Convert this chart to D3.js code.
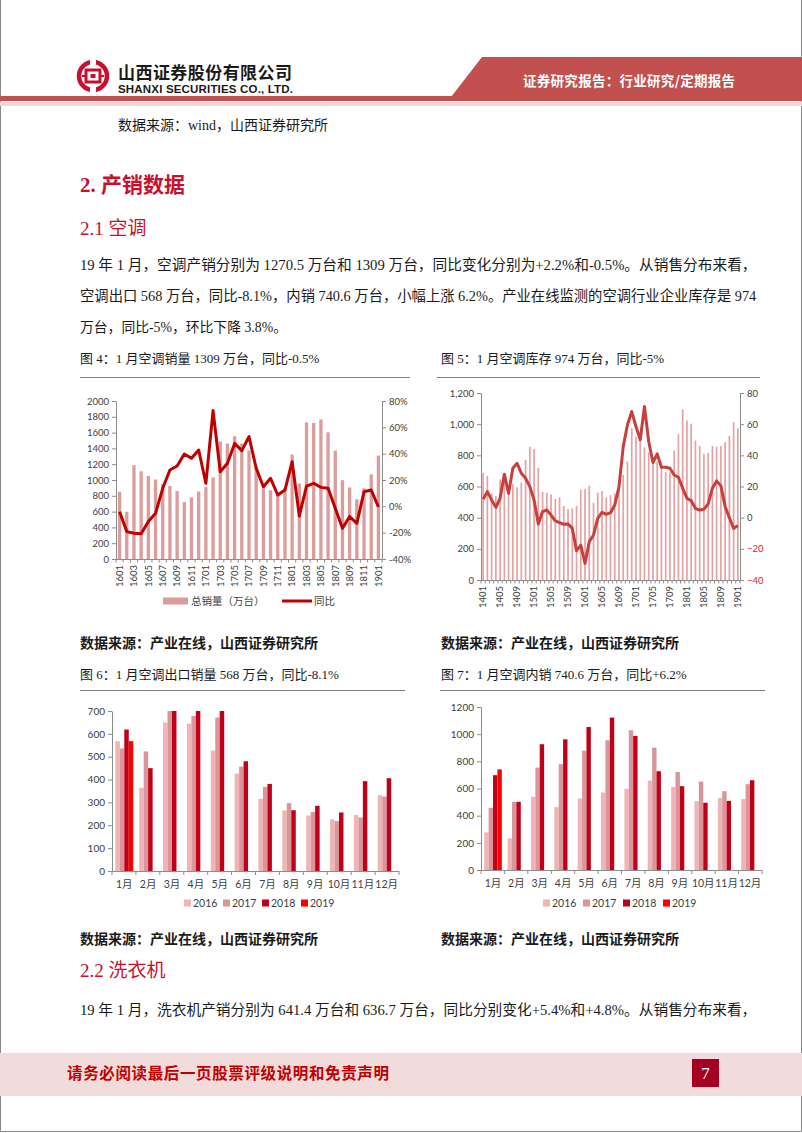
<!DOCTYPE html>
<html>
<head>
<meta charset="utf-8">
<script src="https://cdn.jsdelivr.net/npm/d3@7"></script>
<style>
body { margin: 0; background: #fff; }
svg { display: block; }
</style>
</head>
<body>
<svg id="page" width="802" height="1133"></svg>
<script>
// 图4 空调销量 (万台) 与同比 (%)
const salesMonths = ['1601','1602','1603','1604','1605','1606','1607','1608','1609','1610','1611','1612',
  '1701','1702','1703','1704','1705','1706','1707','1708','1709','1710','1711','1712',
  '1801','1802','1803','1804','1805','1806','1807','1808','1809','1810','1811','1812','1901'];
const salesTotal = [850,598,1187,1110,1052,1006,950,924,859,720,779,855,
  910,1032,1488,1461,1554,1460,1372,1150,920,870,820,900,
  1322,956,1728,1722,1766,1604,1372,998,906,756,894,1072,1309];
const salesYoY = [-4.1,-19.2,-20.5,-20.8,-11.6,-5.3,13.7,27.6,30.6,39.7,36.5,42.8,
  17.5,72.7,26.3,32.7,47.8,42.3,52.9,28.9,14.9,21.3,8.6,12.4,
  33.9,-7.3,15.4,17.5,14.4,13.7,-1.5,-16.7,-7.8,-12.9,11.1,12.4,-0.5];

// 图5 空调库存 (万台) 与同比 (%)
const stockMonths = ['1401','1402','1403','1404','1405','1406','1407','1408','1409','1410','1411','1412',
  '1501','1502','1503','1504','1505','1506','1507','1508','1509','1510','1511','1512',
  '1601','1602','1603','1604','1605','1606','1607','1608','1609','1610','1611','1612',
  '1701','1702','1703','1704','1705','1706','1707','1708','1709','1710','1711','1712',
  '1801','1802','1803','1804','1805','1806','1807','1808','1809','1810','1811','1812','1901'];
const stockTotal = [686,668,555,540,645,660,580,615,595,625,770,855,
  840,720,565,560,550,520,530,475,455,460,475,580,
  585,605,495,560,570,530,545,555,600,675,760,975,
  920,890,850,820,780,760,725,695,690,830,935,1095,
  1024,1003,895,860,810,815,860,855,860,885,925,1013,974];
const stockYoY = [11.8,16.7,11.4,6.6,12.4,27.9,15.6,31.7,34.9,28.5,25.3,19.9,
  11.4,-4.1,3.9,4.9,1.7,-2.1,-3.2,-4.3,-4.1,-6.9,-21.2,-17.6,
  -29.4,-15.4,-11.1,-0.4,3.4,2.1,3.2,8.1,19.9,45.6,59.6,68.1,
  58.5,49.9,71.4,48.9,35.4,40.9,32.4,32.4,31.7,27.4,25.9,18.9,
  12.4,10.9,6.0,4.9,5.4,8.8,18.9,23.6,20.4,7.1,0,-6.9,-5];

// 图6 / 图7 月度 (万台)
const monthNames = ['1月','2月','3月','4月','5月','6月','7月','8月','9月','10月','11月','12月'];
const years = ['2016','2017','2018','2019'];
const export2016 = [568,364,649,645,527,426,316,265,243,226,245,332];
const export2017 = [536,523,700,678,671,457,368,297,258,218,234,326];
const export2018 = [619,450,700,700,700,480,381,266,285,256,393,406];
const export2019 = [568];
const domestic2016 = [277,233,539,463,527,571,598,659,612,507,531,522];
const domestic2017 = [458,502,754,779,879,955,1029,901,722,651,580,632];
const domestic2018 = [698,502,926,962,1053,1122,987,727,617,495,509,661];
const domestic2019 = [740.6];

const yearColors = ['#f0b4b6', '#d9959a', '#c00018', '#ff0000'];

const MIX = '"Liberation Serif", "Noto Sans CJK SC", serif';
const SANS = '"Noto Sans CJK SC", sans-serif';
const NUM = 'Lato, "Noto Sans CJK SC", sans-serif';
const AXIS = '#8c8c8c', LABEL = '#404040';

const svg = d3.select('#page');

function text(x, y, s, size, opt) {
  opt = opt || {};
  let t = svg.append('text')
    .attr('x', x).attr('y', y)
    .attr('font-size', size)
    .attr('font-family', opt.family || MIX)
    .attr('font-weight', opt.weight || 400)
    .attr('fill', opt.fill || '#1a1a1a')
    .attr('text-anchor', opt.anchor || 'start')
    .text(s);
  if (opt.len) t.attr('textLength', opt.len).attr('lengthAdjust', 'spacing');
  if (opt.fit) {
    // scale the font so the line fills the given width, like justified body text
    let w = t.node().getComputedTextLength();
    if (w > 0) t.attr('font-size', size * opt.fit / w);
  }
  return t;
}

function styleAxis(g) {
  g.attr('font-family', NUM).attr('font-size', 9.5);
  g.select('.domain').attr('stroke', AXIS);
  g.selectAll('.tick line').attr('stroke', AXIS);
  g.selectAll('.tick text').attr('fill', LABEL);
}

// ---------- page frame / header / footer ----------
svg.append('path').attr('d', 'M0.5,0 V1131.5 H801.5 V0').attr('fill', 'none').attr('stroke', '#8a8a8a');

let logo = svg.append('g').attr('transform', 'translate(93,76)');
logo.append('circle').attr('r', 14).attr('fill', 'none').attr('stroke', '#c8102e').attr('stroke-width', 4.5);
logo.append('rect').attr('x', -3).attr('y', -17).attr('width', 6).attr('height', 6).attr('fill', '#fff');
logo.append('rect').attr('x', -3).attr('y', 11).attr('width', 6).attr('height', 6).attr('fill', '#fff');
logo.append('rect').attr('x', -7).attr('y', -6).attr('width', 14).attr('height', 12).attr('fill', 'none').attr('stroke', '#c8102e').attr('stroke-width', 3);
logo.append('rect').attr('x', -2.5).attr('y', -2).attr('width', 5).attr('height', 4).attr('fill', '#c8102e');
logo.append('rect').attr('x', -11).attr('y', -1).attr('width', 4).attr('height', 2).attr('fill', '#c8102e');
logo.append('rect').attr('x', 7).attr('y', -1).attr('width', 4).attr('height', 2).attr('fill', '#c8102e');

text(118, 79, '山西证券股份有限公司', 17, { family: SANS, weight: 700, len: 174 });
text(118, 93, 'SHANXI SECURITIES CO., LTD.', 11.5, { family: '"Liberation Sans", sans-serif', weight: 700, len: 175 });

svg.append('polygon').attr('points', '482,57 802,57 802,97 451,97').attr('fill', '#c2504e');
svg.append('rect').attr('x', 0).attr('y', 96).attr('width', 802).attr('height', 5).attr('fill', '#c2504e');
svg.append('rect').attr('x', 0).attr('y', 102).attr('width', 802).attr('height', 4).attr('fill', '#f2d6d6');
text(523, 86, '证券研究报告：行业研究/定期报告', 13.5, { family: SANS, weight: 700, fill: '#fff', len: 212 });

text(118, 130, '数据来源：wind，山西证券研究所', 14);

svg.append('rect').attr('x', 0).attr('y', 1053).attr('width', 802).attr('height', 43).attr('fill', '#f2dcdb');
text(67, 1079, '请务必阅读最后一页股票评级说明和免责声明', 15.5, { family: SANS, weight: 700, fill: '#c00000', len: 322 });
svg.append('rect').attr('x', 692).attr('y', 1059).attr('width', 27).attr('height', 28).attr('fill', '#a50021');
text(705.5, 1079, '7', 17, { fill: '#fff', anchor: 'middle' });

// ---------- text ----------
text(80, 192, '2. 产销数据', 21, { weight: 700, fill: '#c8102e' });
text(80, 235, '2.1 空调', 19, { fill: '#c8102e' });
text(80, 270, '19 年 1 月，空调产销分别为 1270.5 万台和 1309 万台，同比变化分别为+2.2%和-0.5%。从销售分布来看，', 13.5, { fit: 677 });
text(80, 301, '空调出口 568 万台，同比-8.1%，内销 740.6 万台，小幅上涨 6.2%。产业在线监测的空调行业企业库存是 974', 13.5, { fit: 677 });
text(80, 332, '万台，同比-5%，环比下降 3.8%。', 13.8);

text(80, 363, '图 4：1 月空调销量 1309 万台，同比-0.5%', 13);
text(441, 363, '图 5：1 月空调库存 974 万台，同比-5%', 13);
svg.append('line').attr('x1', 80).attr('x2', 410).attr('y1', 377.5).attr('y2', 377.5).attr('stroke', '#7f7f7f');
svg.append('line').attr('x1', 437).attr('x2', 760).attr('y1', 377.5).attr('y2', 377.5).attr('stroke', '#7f7f7f');

text(80, 648, '数据来源：产业在线，山西证券研究所', 14, { family: SANS, weight: 700 });
text(441, 648, '数据来源：产业在线，山西证券研究所', 14, { family: SANS, weight: 700 });

text(80, 679, '图 6：1 月空调出口销量 568 万台，同比-8.1%', 13);
text(441, 679, '图 7：1 月空调内销 740.6 万台，同比+6.2%', 13);
svg.append('line').attr('x1', 80).attr('x2', 405).attr('y1', 690.5).attr('y2', 690.5).attr('stroke', '#7f7f7f');
svg.append('line').attr('x1', 440).attr('x2', 765).attr('y1', 690.5).attr('y2', 690.5).attr('stroke', '#7f7f7f');

text(80, 944, '数据来源：产业在线，山西证券研究所', 14, { family: SANS, weight: 700 });
text(441, 944, '数据来源：产业在线，山西证券研究所', 14, { family: SANS, weight: 700 });

text(80, 977, '2.2 洗衣机', 19, { fill: '#c8102e' });
text(80, 1015, '19 年 1 月，洗衣机产销分别为 641.4 万台和 636.7 万台，同比分别变化+5.4%和+4.8%。从销售分布来看，', 13.5, { fit: 677 });

// ---------- bar + line chart (图4, 图5) ----------
function barLine(o) {
  let x = d3.scaleBand().domain(o.months).range([o.x0, o.x1])
    .paddingInner(o.pad).paddingOuter(o.pad / 2);
  let yL = d3.scaleLinear().domain(o.left).range([o.y1, o.y0]);
  let yR = d3.scaleLinear().domain(o.right).range([o.y1, o.y0]);
  let step = (o.x1 - o.x0) / o.months.length;

  svg.append('g').selectAll('rect').data(o.bars).enter()
    .append('rect')
    .attr('x', (d, i) => x(o.months[i]))
    .attr('y', d => yL(d))
    .attr('width', x.bandwidth())
    .attr('height', d => o.y1 - yL(d))
    .attr('fill', o.barColor);

  let line = d3.line()
    .x((d, i) => x(o.months[i]) + x.bandwidth() / 2)
    .y(d => yR(d));
  svg.append('path').datum(o.line)
    .attr('d', line)
    .attr('fill', 'none')
    .attr('stroke', o.lineColor)
    .attr('stroke-width', 3)
    .attr('stroke-linejoin', 'round');

  let gl = svg.append('g').attr('transform', `translate(${o.x0},0)`)
    .call(d3.axisLeft(yL).tickValues(d3.range(o.left[0], o.left[1] + 1, o.leftStep))
      .tickSize(4).tickSizeOuter(0).tickFormat(o.leftFmt));
  styleAxis(gl);
  let gr = svg.append('g').attr('transform', `translate(${o.x1},0)`)
    .call(d3.axisRight(yR).tickValues(d3.range(o.right[0], o.right[1] + 1, 20))
      .tickSize(4).tickSizeOuter(0).tickFormat(o.rightFmt));
  styleAxis(gr);
  if (o.negRed) gr.selectAll('.tick text').attr('fill', d => d < 0 ? '#e02020' : LABEL);

  // category axis
  svg.append('line').attr('x1', o.x0).attr('x2', o.x1).attr('y1', o.y1 + 0.5).attr('y2', o.y1 + 0.5).attr('stroke', AXIS);
  svg.append('g').selectAll('line').data(d3.range(o.months.length + 1)).enter()
    .append('line')
    .attr('x1', i => o.x0 + i * step).attr('x2', i => o.x0 + i * step)
    .attr('y1', o.y1).attr('y2', o.y1 + 3.5)
    .attr('stroke', AXIS);
  svg.append('g').selectAll('text').data(o.months.filter((m, i) => i % o.every === 0)).enter()
    .append('text')
    .attr('transform', m => `translate(${x(m) + x.bandwidth() / 2},${o.y1 + 6}) rotate(-90)`)
    .attr('dy', '0.35em')
    .attr('text-anchor', 'end')
    .attr('font-family', NUM)
    .attr('font-size', 9.5)
    .attr('fill', LABEL)
    .text(m => m);
}

barLine({
  months: salesMonths, bars: salesTotal, line: salesYoY,
  x0: 116, x1: 382, y0: 401, y1: 559, pad: 0.54,
  left: [0, 2000], leftStep: 200, leftFmt: d3.format('d'),
  right: [-40, 80], rightFmt: d => d + '%',
  barColor: '#dc9c9c', lineColor: '#c00000', every: 2
});

// 图4 legend
svg.append('rect').attr('x', 163).attr('y', 597.5).attr('width', 25).attr('height', 7).attr('fill', '#dc9c9c');
text(191, 605, '总销量（万台）', 10.5, { family: SANS, fill: LABEL });
svg.append('line').attr('x1', 282).attr('x2', 312).attr('y1', 601).attr('y2', 601).attr('stroke', '#c00000').attr('stroke-width', 3);
text(314, 605, '同比', 10.5, { family: SANS, fill: LABEL });

barLine({
  months: stockMonths, bars: stockTotal, line: stockYoY,
  x0: 481, x1: 740, y0: 393, y1: 580, pad: 0.6,
  left: [0, 1200], leftStep: 200, leftFmt: d3.format(','),
  right: [-40, 80], rightFmt: d3.format('d'), negRed: true,
  barColor: '#e4a2a2', lineColor: '#c8403e', every: 4
});

// ---------- grouped monthly bars (图6, 图7) ----------
function grouped(o) {
  let x0 = d3.scaleBand().domain(monthNames).range([o.x0, o.x1]).paddingInner(0.25).paddingOuter(0.14);
  let x1 = d3.scaleBand().domain(years).range([0, x0.bandwidth()]);
  let y = d3.scaleLinear().domain([0, o.max]).range([o.y1, o.y0]);
  let step = (o.x1 - o.x0) / monthNames.length;

  o.series.forEach((vals, k) => {
    svg.append('g').selectAll('rect').data(vals).enter()
      .append('rect')
      .attr('x', (d, i) => x0(monthNames[i]) + x1(years[k]))
      .attr('y', d => y(d))
      .attr('width', x1.bandwidth())
      .attr('height', d => o.y1 - y(d))
      .attr('fill', yearColors[k]);
  });

  let g = svg.append('g').attr('transform', `translate(${o.x0},0)`)
    .call(d3.axisLeft(y).tickValues(d3.range(0, o.max + 1, o.tick))
      .tickSize(4).tickSizeOuter(0).tickFormat(d3.format('d')));
  styleAxis(g);
  g.attr('font-size', 10);

  svg.append('line').attr('x1', o.x0).attr('x2', o.x1).attr('y1', o.y1 + 0.5).attr('y2', o.y1 + 0.5).attr('stroke', AXIS);
  svg.append('g').selectAll('line').data(d3.range(monthNames.length + 1)).enter()
    .append('line')
    .attr('x1', i => o.x0 + i * step).attr('x2', i => o.x0 + i * step)
    .attr('y1', o.y1).attr('y2', o.y1 + 4)
    .attr('stroke', AXIS);
  svg.append('g').selectAll('text').data(monthNames).enter()
    .append('text')
    .attr('x', m => x0(m) + x0.bandwidth() / 2)
    .attr('y', o.y1 + 17)
    .attr('text-anchor', 'middle')
    .attr('font-family', NUM)
    .attr('font-size', 10.5)
    .attr('fill', LABEL)
    .text(m => m);

  let lg = svg.append('g').selectAll('g').data(years).enter()
    .append('g')
    .attr('transform', (d, i) => `translate(${o.legendX + i * o.legendStep},903)`);
  lg.append('rect').attr('x', 0).attr('y', -3.5).attr('width', 7).attr('height', 7)
    .attr('fill', (d, i) => yearColors[i]);
  lg.append('text').attr('x', 9).attr('y', 4)
    .attr('font-family', NUM).attr('font-size', 10.5).attr('fill', LABEL)
    .text(d => d);
}

grouped({
  series: [export2016, export2017, export2018, export2019],
  x0: 112, x1: 399, y0: 711, y1: 871, max: 700, tick: 100,
  legendX: 184, legendStep: 39
});

grouped({
  series: [domestic2016, domestic2017, domestic2018, domestic2019],
  x0: 481, x1: 762, y0: 707, y1: 870, max: 1200, tick: 200,
  legendX: 543, legendStep: 40
});
</script>
</body>
</html>
